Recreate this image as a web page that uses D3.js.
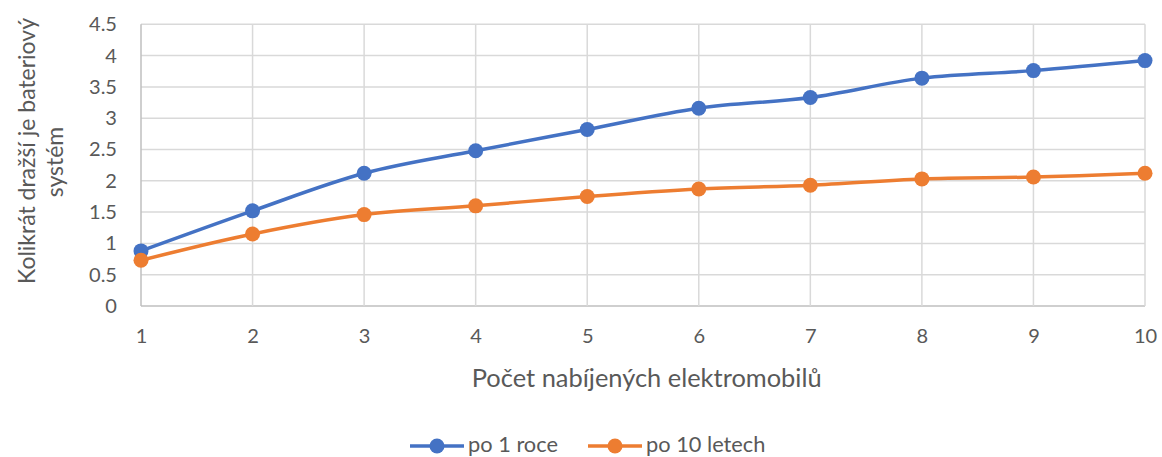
<!DOCTYPE html>
<html><head><meta charset="utf-8">
<script src="https://cdn.jsdelivr.net/npm/d3@7"></script>
<style>body{margin:0;background:#fff;} text{font-family:Lato,"Open Sans",sans-serif;fill:#595959;}</style>
</head><body><svg id="c" width="1162" height="457"></svg>
<script>
const categories = [1,2,3,4,5,6,7,8,9,10];
const seriesNames = ["po 1 roce","po 10 letech"];
const valuesRoce1 = [0.88,1.52,2.12,2.48,2.82,3.16,3.33,3.64,3.76,3.92];
const valuesLet10 = [0.73,1.15,1.46,1.60,1.75,1.87,1.93,2.03,2.06,2.12];
const yTicks = [0,0.5,1,1.5,2,2.5,3,3.5,4,4.5];
const colors = ["#4472C4","#ED7D31"];
const xTitle = "Počet nabíjených elektromobilů";
const yTitle = ["Kolikrát dražší je bateriový","systém"];

const svg = d3.select("#c");
const L=141, R=1145, T=24.3, B=306;
const x = d3.scaleLinear().domain([1,10]).range([L,R]);
const y = d3.scaleLinear().domain([0,4.5]).range([B,T]);

// fit a font size so that a text reaches a target width
function fitSize(sel, target){
  sel.style("font-size","20px");
  const w = sel.node().getComputedTextLength();
  const s = 20*target/w;
  sel.style("font-size",s+"px");
  return s;
}

// grid
svg.append("g").selectAll("line").data(yTicks).join("line")
  .attr("x1",L).attr("x2",R).attr("y1",d=>y(d)).attr("y2",d=>y(d))
  .attr("stroke",d=>d===0?"#bfbfbf":"#d9d9d9").attr("stroke-width",1.5);
svg.append("g").selectAll("line").data(categories).join("line")
  .attr("x1",d=>x(d)).attr("x2",d=>x(d)).attr("y1",T).attr("y2",B)
  .attr("stroke",d=>d===1?"#bfbfbf":"#d9d9d9").attr("stroke-width",1.5);

// axes labels
const yAxis = d3.axisLeft(y).tickValues(yTicks).tickSize(0).tickPadding(0).tickFormat(d=>String(d));
const gy = svg.append("g").attr("transform",`translate(117,0)`).call(yAxis);
gy.select(".domain").remove();
const tickTexts = gy.selectAll("text").attr("fill","#595959");
const tsz = fitSize(tickTexts.filter(d=>d===4.5), 28);
tickTexts.style("font-size",tsz+"px");
const xAxis = d3.axisBottom(x).tickValues(categories).tickSize(0).tickPadding(0).tickFormat(d=>String(d));
const gx = svg.append("g").attr("transform",`translate(0,343)`).call(xAxis);
gx.select(".domain").remove();
gx.selectAll("text").attr("y",0).attr("dy",0).style("font-size",tsz+"px").attr("fill","#595959");

const xt = svg.append("text").attr("x",(471.7+821.7)/2).attr("y",387).attr("text-anchor","middle").text(xTitle);
fitSize(xt, 350);
const yt1 = svg.append("text").attr("transform","translate(35,151) rotate(-90)").attr("text-anchor","middle").text(yTitle[0]);
const ysz = fitSize(yt1, 266);
svg.append("text").attr("transform","translate(63,162) rotate(-90)").attr("text-anchor","middle")
  .style("font-size",ysz+"px").text(yTitle[1]);

// series
const series = [valuesRoce1, valuesLet10];
const line = d3.line().x((d,i)=>x(categories[i])).y(d=>y(d)).curve(d3.curveCatmullRom.alpha(0));
series.forEach((vals,si)=>{
  svg.append("path").datum(vals).attr("d",line).attr("fill","none")
    .attr("stroke",colors[si]).attr("stroke-width",3.5).attr("stroke-linecap","round");
  svg.append("g").selectAll("circle").data(vals).join("circle")
    .attr("cx",(d,i)=>x(categories[i])).attr("cy",d=>y(d)).attr("r",7.5).attr("fill",colors[si]);
});

// legend
const legX = [410, 588];
const legW = [90, 120];
let lsz = null;
seriesNames.forEach((n,i)=>{
  const g = svg.append("g").attr("transform",`translate(${legX[i]},446)`);
  g.append("line").attr("x1",0).attr("x2",54).attr("stroke",colors[i]).attr("stroke-width",3.5);
  g.append("circle").attr("cx",27).attr("r",7.5).attr("fill",colors[i]);
  const t = g.append("text").attr("x",58).attr("y",6).text(n);
  if(lsz===null){ lsz = fitSize(t, legW[0]); } else t.style("font-size",lsz+"px");
});
</script></body></html>
